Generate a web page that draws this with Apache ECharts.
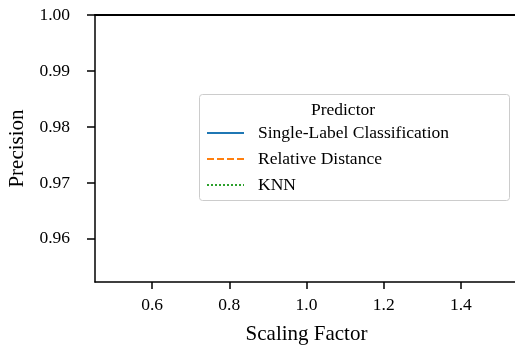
<!DOCTYPE html>
<html>
<head>
<meta charset="utf-8">
<script src="https://cdn.jsdelivr.net/npm/echarts@6/dist/echarts.min.js"></script>
<style>
  html, body { margin: 0; padding: 0; background: #fff; }
  #chart { width: 515px; height: 347px; }
</style>
</head>
<body>
<div id="chart"></div>
<script>
// scaling factors swept and the precision of each predictor (all at 1.0)
const scalingFactors = [0.5, 0.75, 1.0, 1.25, 1.5];
const singleLabel = [1.0, 1.0, 1.0, 1.0, 1.0];
const relativeDistance = [1.0, 1.0, 1.0, 1.0, 1.0];
const knn = [1.0, 1.0, 1.0, 1.0, 1.0];

const xTicks = [0.6, 0.8, 1.0, 1.2, 1.4];
const yTicks = [0.96, 0.97, 0.98, 0.99, 1.0];

const font = "'Liberation Serif', 'DejaVu Serif', serif";

const pairs = (ys) => scalingFactors.map((x, i) => [x, ys[i]]);

const chart = echarts.init(document.getElementById('chart'));

chart.setOption({
  animation: false,
  textStyle: { fontFamily: font },
  grid: { left: 95, top: 15, right: -3, bottom: 65, containLabel: false,
    outerBoundsMode: 'none' },
  xAxis: [{
    type: 'value',
    min: 0.452,
    max: 1.548,
    name: 'Scaling Factor',
    nameLocation: 'middle',
    nameGap: 42,
    nameTextStyle: { fontFamily: font, fontSize: 21, color: '#000' },
    axisLine: { lineStyle: { color: '#000', width: 1.5 } },
    axisTick: { show: true, length: 7, lineStyle: { color: '#000', width: 1.5 },
      customValues: xTicks },
    axisLabel: { fontFamily: font, fontSize: 17.5, color: '#000', margin: 14,
      customValues: xTicks, formatter: v => v.toFixed(1) },
    splitLine: { show: false }
  }, {
    type: 'value',
    position: 'top',
    min: 0.452,
    max: 1.548,
    z: 10,
    axisLine: { show: true, lineStyle: { color: '#000', width: 2 } },
    axisTick: { show: false },
    axisLabel: { show: false },
    splitLine: { show: false }
  }],
  yAxis: {
    type: 'value',
    min: 0.9523,
    max: 1.0,
    name: 'Precision',
    nameLocation: 'middle',
    nameGap: 64,
    nameTextStyle: { fontFamily: font, fontSize: 21, color: '#000' },
    axisLine: { show: true, lineStyle: { color: '#000', width: 1.5 } },
    axisTick: { show: true, length: 8, lineStyle: { color: '#000', width: 1.5 },
      customValues: yTicks },
    axisLabel: { fontFamily: font, fontSize: 17.5, color: '#000', margin: 25,
      customValues: yTicks, formatter: v => v.toFixed(2) },
    splitLine: { show: false }
  },
  legend: {
    orient: 'vertical',
    left: 206,
    top: 124,
    itemWidth: 37,
    itemHeight: 14,
    itemGap: 8,
    padding: 0,
    itemStyle: { opacity: 0 },
    textStyle: { fontFamily: font, fontSize: 17.5, color: '#000',
      padding: [0, 0, 0, 9] },
    data: ['Single-Label Classification', 'Relative Distance', 'KNN']
  },
  graphic: [{
    type: 'rect',
    shape: { x: 199.5, y: 94.5, width: 310, height: 106, r: 3 },
    style: { fill: 'rgba(255,255,255,0.8)', stroke: '#cccccc', lineWidth: 1 },
    z: 1
  }, {
    type: 'text',
    x: 343,
    y: 110,
    style: { text: 'Predictor', font: "17.5px 'Liberation Serif'", fill: '#000',
      textAlign: 'center', textVerticalAlign: 'middle' },
    z: 2
  }],
  series: [{
    name: 'Single-Label Classification',
    type: 'line',
    data: pairs(singleLabel),
    showSymbol: false,
    symbol: 'none',
    clip: false,
    lineStyle: { color: '#1f77b4', width: 2 },
    itemStyle: { color: '#1f77b4' }
  }, {
    name: 'Relative Distance',
    type: 'line',
    data: pairs(relativeDistance),
    showSymbol: false,
    symbol: 'none',
    clip: false,
    lineStyle: { color: '#ff7f0e', width: 2, type: [7, 3] },
    itemStyle: { color: '#ff7f0e' }
  }, {
    name: 'KNN',
    type: 'line',
    data: pairs(knn),
    showSymbol: false,
    symbol: 'none',
    clip: false,
    lineStyle: { color: '#2ca02c', width: 2, type: [2, 2] },
    itemStyle: { color: '#2ca02c' }
  }]
});
</script>
</body>
</html>
